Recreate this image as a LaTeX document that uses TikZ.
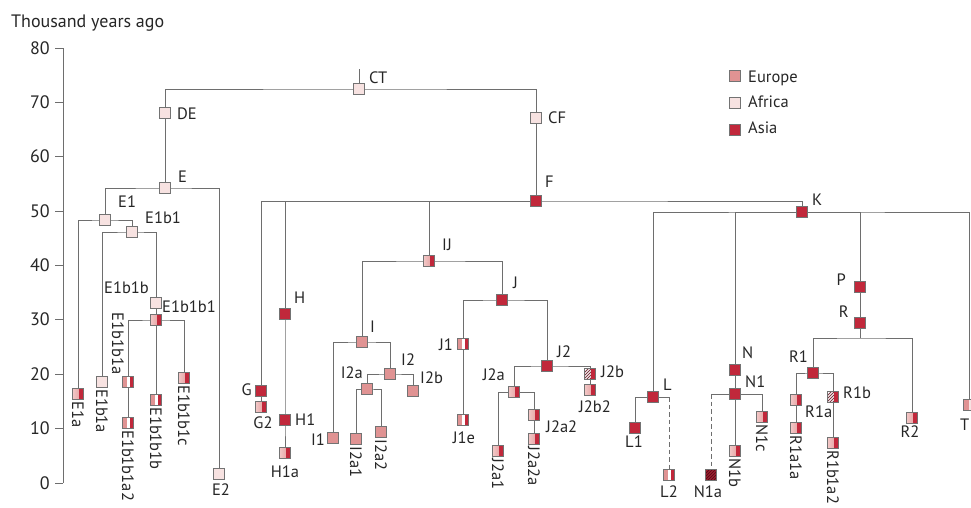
\documentclass[tikz,border=0pt]{standalone}
\usepackage{fontspec}
\setmainfont{PT Sans}
\usetikzlibrary{backgrounds}
\definecolor{eucol}{HTML}{E09393}
\definecolor{eulight}{HTML}{F3C9C8}
\definecolor{afcol}{HTML}{F7E2E1}
\definecolor{ascol}{HTML}{C1283B}
\definecolor{asdark}{HTML}{5E0A16}
\definecolor{linecol}{HTML}{6E6E6E}
\newcommand\ppb{path picture bounding box}
\tikzset{
  hap/.style={draw=black!55, line width=0.6pt, minimum size=11.5pt, inner sep=0pt, outer sep=0pt},
  eu/.style={hap, fill=eucol},
  af/.style={hap, fill=afcol},
  as/.style={hap, fill=ascol},
  % Europe / Asia split
  euas/.style={hap, path picture={
    \shade[left color=eulight, right color=eucol] (\ppb.south west) rectangle ([xshift=6.8pt]\ppb.north west);
    \fill[ascol] ([xshift=6.8pt]\ppb.south west) rectangle (\ppb.north east);}},
  % Europe / Africa split
  euaf/.style={hap, path picture={
    \fill[eucol] (\ppb.south west) rectangle ([xshift=6pt]\ppb.north west);
    \fill[afcol] ([xshift=6pt]\ppb.south west) rectangle (\ppb.north east);}},
  % Europe / white / Asia stripes
  ewa/.style={hap, path picture={
    \fill[eucol] (\ppb.south west) rectangle ([xshift=4.3pt]\ppb.north west);
    \fill[white] ([xshift=4.3pt]\ppb.south west) rectangle ([xshift=7.3pt]\ppb.north west);
    \fill[ascol] ([xshift=7.3pt]\ppb.south west) rectangle (\ppb.north east);}},
  % hatched part with solid Asia part
  hatchas/.style={hap, path picture={
    \fill[white] (\ppb.south west) rectangle (\ppb.north east);
    \begin{scope}
      \clip (\ppb.south west) rectangle ([xshift=6.8pt]\ppb.north west);
      \foreach \d in {-15,-12,...,12}
        \draw[asdark!80, line width=0.9pt] ([shift={(\d pt,-8pt)}]\ppb.center) -- ++(16pt,16pt);
    \end{scope}
    \fill[ascol] ([xshift=6.8pt]\ppb.south west) rectangle (\ppb.north east);}},
  % fully hatched dark
  hatchdark/.style={hap, path picture={
    \fill[ascol!85!black] (\ppb.south west) rectangle (\ppb.north east);
    \foreach \d in {-15,-12,...,12}
      \draw[asdark, line width=0.9pt] ([shift={(\d pt,-8pt)}]\ppb.center) -- ++(16pt,16pt);}},
  lab/.style={font=\fontsize{16.5}{18}\selectfont, inner sep=0pt, text=black!85},
  rlab/.style={lab, rotate=-90, anchor=west},
  axlab/.style={font=\fontsize{18}{20}\selectfont, inner sep=0pt, text=black!85},
  branch/.style={draw=linecol, line width=0.9pt},
  broken/.style={branch, dash pattern=on 4.5pt off 3pt},
}
\begin{document}
\begin{tikzpicture}[x=1pt, y=-1pt]
\useasboundingbox (0,0) rectangle (971,507);

% title and time axis
\node[axlab, anchor=base west] (title) at (11,27) {Thousand years ago};
\draw[branch] (63,48) -- (63,483);
\foreach \t in {0,10,...,80} {
  \draw[branch] (55,{483-5.4375*\t}) -- (63,{483-5.4375*\t});
  \node[axlab, anchor=base east] (ax\t) at (50,{489-5.4375*\t}) {\t};
}

% legend
\node[eu] (legEU) at (735,76) {};
\node[af] (legAF) at (735,103) {};
\node[as] (legAS) at (735,130) {};
\node[lab, anchor=base west] (tEU) at (748,82) {Europe};
\node[lab, anchor=base west] (tAF) at (748,107) {Africa};
\node[lab, anchor=base west] (tAS) at (748,133) {Asia};

% haplogroup nodes
\coordinate (CTtop) at (359,69);
\node[af] (CT) at (359,89) {};
\node[af] (DE) at (165,113) {};
\node[af] (CF) at (536,118) {};
\node[af] (E) at (165,188) {};
\node[af] (E1) at (105,220) {};
\node[af] (E2) at (219,474) {};
\node[euas] (E1a) at (78,394) {};
\node[af] (E1b1) at (132,232) {};
\node[af] (E1b1a) at (102,382) {};
\node[af] (E1b1b) at (156,303) {};
\node[euas] (E1b1b1) at (156,320) {};
\node[ewa] (E1b1b1a) at (128,382) {};
\node[ewa] (E1b1b1a2) at (128,423) {};
\node[ewa] (E1b1b1b) at (156,400) {};
\node[euas] (E1b1b1c) at (184,378) {};

\node[as] (F) at (536,201) {};
\node[as] (G) at (261,391) {};
\node[euas] (G2) at (261,407) {};
\node[as] (H) at (285,314) {};
\node[as] (H1) at (285,420) {};
\node[euas] (H1a) at (285,453) {};
\node[euas] (IJ) at (429,261) {};
\node[eu] (I) at (362,342) {};
\node[eu] (I1) at (333,438) {};
\node[eu] (I2) at (390,374) {};
\node[eu] (I2a) at (367,389) {};
\node[eu] (I2b) at (413,391) {};
\node[eu] (I2a1) at (356,439) {};
\node[eu] (I2a2) at (381,432) {};
\node[as] (J) at (502,300) {};
\node[ewa] (J1) at (463,344) {};
\node[ewa] (J1e) at (463,420) {};
\node[as] (J2) at (547,366) {};
\node[euas] (J2a) at (514,392) {};
\node[hatchas] (J2b) at (590,374) {};
\node[euas] (J2b2) at (590,390) {};
\node[euas] (J2a1) at (498,451) {};
\node[euas] (J2a2) at (534,415) {};
\node[euas] (J2a2a) at (534,439) {};

\node[as] (K) at (802,212) {};
\node[as] (L) at (653,397) {};
\node[as] (L1) at (635,428) {};
\node[ewa] (L2) at (669,475) {};
\node[as] (N) at (735,370) {};
\node[as] (N1) at (735,394) {};
\node[hatchdark] (N1a) at (711,475) {};
\node[euas] (N1b) at (735,451) {};
\node[euas] (N1c) at (762,417) {};
\node[as] (P) at (860,287) {};
\node[as] (R) at (860,323) {};
\coordinate (Rsplit) at (860,338);
\node[as] (R1) at (813,373) {};
\node[euas] (R2) at (912,418) {};
\node[euas] (R1a) at (796,400) {};
\node[euas] (R1a1a) at (796,428) {};
\node[hatchas] (R1b) at (833,397) {};
\node[euas] (R1b1a2) at (833,443) {};
\node[euaf] (T) at (969,405) {};

% branches
\begin{scope}[on background layer]
  \draw[branch] (CTtop) -- (CT.center);
  \draw[branch] (DE.center) |- (CT.center) -| (CF.center);
  \draw[branch] (DE.center) -- (E.center);
  \draw[branch] (E1.center) |- (E.center) -| (E2.center);
  \draw[branch] (E1a.center) |- (E1.center) -| (E1b1.center);
  \draw[branch] (E1b1a.center) |- (E1b1.center) -| (E1b1b.center);
  \draw[branch] (E1b1b.center) -- (E1b1b1.center);
  \draw[branch] (E1b1b1a.center) |- (E1b1b1.center) -| (E1b1b1c.center);
  \draw[branch] (E1b1b1.center) -- (E1b1b1b.center);
  \draw[branch] (E1b1b1a.center) -- (E1b1b1a2.center);

  \draw[branch] (CF.center) -- (F.center);
  \draw[branch] (G.center) |- (F.center) -| (K.center);
  \draw[branch] (H.center) |- (F.center);
  \draw[branch] (IJ.center) |- (F.center);
  \draw[branch] (G.center) -- (G2.center);
  \draw[branch] (H.center) -- (H1.center) -- (H1a.center);
  \draw[branch] (I.center) |- (IJ.center) -| (J.center);
  \draw[branch] (I1.center) |- (I.center) -| (I2.center);
  \draw[branch] (I2a.center) |- (I2.center) -| (I2b.center);
  \draw[branch] (I2a1.center) |- (I2a.center) -| (I2a2.center);
  \draw[branch] (J1.center) |- (J.center) -| (J2.center);
  \draw[branch] (J1.center) -- (J1e.center);
  \draw[branch] (J2a.center) |- (J2.center) -| (J2b.center);
  \draw[branch] (J2b.center) -- (J2b2.center);
  \draw[branch] (J2a1.center) |- (J2a.center) -| (J2a2.center);
  \draw[branch] (J2a2.center) -- (J2a2a.center);

  \draw[branch] (L.center) |- (K.center) -| (T.center);
  \draw[branch] (N.center) |- (K.center);
  \draw[branch] (P.center) |- (K.center);
  \draw[branch] (L1.center) |- (L.center) -- (L.center -| L2.center);
  \draw[broken] (L.center -| L2.center) -- (L2.center);
  \draw[branch] (N.center) -- (N1.center) -- (N1b.center);
  \draw[branch] (N1.center) -| (N1c.center);
  \draw[branch] (N1.center) -- (N1.center -| N1a.center);
  \draw[broken] (N1.center -| N1a.center) -- (N1a.center);
  \draw[branch] (P.center) -- (R.center) -- (Rsplit);
  \draw[branch] (R1.center) |- (Rsplit) -| (R2.center);
  \draw[branch] (R1a.center) |- (R1.center) -| (R1b.center);
  \draw[branch] (R1a.center) -- (R1a1a.center);
  \draw[branch] (R1b.center) -- (R1b1a2.center);
\end{scope}

% labels
\node[lab, anchor=base west] (lCT) at (369,83) {CT};
\node[lab, anchor=base west] (lDE) at (177,119) {DE};
\node[lab, anchor=base west] (lCF) at (548,123) {CF};
\node[lab, anchor=base west] (lE) at (178,182) {E};
\node[lab, anchor=base west] (lE1) at (118,207) {E1};
\node[lab, anchor=base west] (lE1b1) at (145,223) {E1b1};
\node[lab, anchor=base west] (lE1b1b) at (104,293) {E1b1b};
\node[lab, anchor=base west] (lE1b1b1) at (162,312) {E1b1b1};
\node[lab, anchor=base] (lE2) at (221,495) {E2};
\node[rlab] (lE1a) at (78,401) {E1a};
\node[rlab] (lE1b1a) at (102,389) {E1b1a};
\node[lab, rotate=-90, anchor=east] (lE1b1b1a) at (118,375) {E1b1b1a};
\node[rlab] (lE1b1b1a2) at (128,430) {E1b1b1a2};
\node[rlab] (lE1b1b1b) at (156,407) {E1b1b1b};
\node[rlab] (lE1b1b1c) at (184,385) {E1b1b1c};

\node[lab, anchor=base west] (lF) at (545,187) {F};
\node[lab, anchor=base east] (lG) at (252,395) {G};
\node[lab, anchor=base] (lG2) at (263,428) {G2};
\node[lab, anchor=base west] (lH) at (294,303) {H};
\node[lab, anchor=base west] (lH1) at (295,425) {H1};
\node[lab, anchor=base] (lH1a) at (285,477) {H1a};
\node[lab, anchor=base west] (lIJ) at (442,250) {IJ};
\node[lab, anchor=base west] (lI) at (370,332) {I};
\node[lab, anchor=base east] (lI1) at (325,445) {I1};
\node[lab, anchor=base west] (lI2) at (401,365) {I2};
\node[lab, anchor=base east] (lI2a) at (363,378) {I2a};
\node[lab, anchor=base west] (lI2b) at (420,383) {I2b};
\node[rlab] (lI2a1) at (356,446) {I2a1};
\node[rlab] (lI2a2) at (381,439) {I2a2};
\node[lab, anchor=base west] (lJ) at (513,288) {J};
\node[lab, anchor=base east] (lJ1) at (453,350) {J1};
\node[lab, anchor=base] (lJ1e) at (464,443) {J1e};
\node[lab, anchor=base west] (lJ2) at (557,357) {J2};
\node[lab, anchor=base east] (lJ2a) at (505,380) {J2a};
\node[lab, anchor=base west] (lJ2b) at (601,377) {J2b};
\node[lab, anchor=base] (lJ2b2) at (595,412) {J2b2};
\node[lab, anchor=base west] (lJ2a2) at (546,432) {J2a2};
\node[rlab] (lJ2a1) at (498,458) {J2a1};
\node[rlab] (lJ2a2a) at (534,446) {J2a2a};

\node[lab, anchor=base west] (lK) at (812,205) {K};
\node[lab, anchor=base west] (lL) at (663,390) {L};
\node[lab, anchor=base] (lL1) at (634,447) {L1};
\node[lab, anchor=base] (lL2) at (669,497) {L2};
\node[lab, anchor=base west] (lN) at (742,358) {N};
\node[lab, anchor=base west] (lN1) at (745,387) {N1};
\node[lab, anchor=base] (lN1a) at (708,497) {N1a};
\node[rlab] (lN1b) at (735,458) {N1b};
\node[rlab] (lN1c) at (762,424) {N1c};
\node[lab, anchor=base east] (lP) at (846,285) {P};
\node[lab, anchor=base east] (lR) at (849,317) {R};
\node[lab, anchor=base east] (lR1) at (808,362) {R1};
\node[lab, anchor=base west] (lR1b) at (843,398) {R1b};
\node[lab, anchor=base west] (lR1a) at (805,417) {R1a};
\node[rlab] (lR1a1a) at (796,435) {R1a1a};
\node[rlab] (lR1b1a2) at (833,450) {R1b1a2};
\node[lab, anchor=base] (lR2) at (910,437) {R2};
\node[lab, anchor=base west] (lT) at (960,430) {T};
\end{tikzpicture}
\end{document}
